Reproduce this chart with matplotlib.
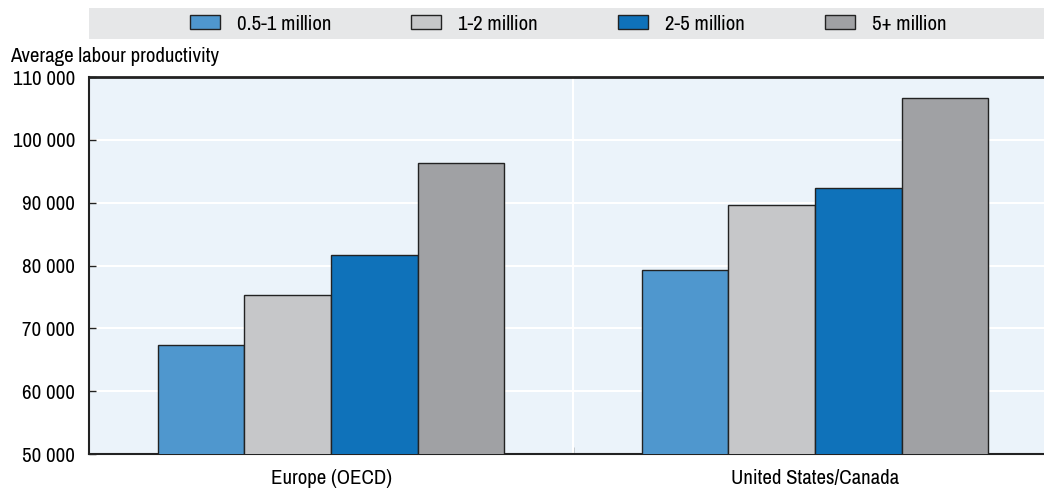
import numpy as np
import matplotlib.pyplot as plt
from matplotlib import font_manager
from matplotlib.patches import Patch, Rectangle
from matplotlib.ticker import FuncFormatter

names = {(f.name, f.stretch) for f in font_manager.fontManager.ttflist}
narrow = [n for n, s in names if 'Narrow' in n or 'Condensed' in n]
if narrow:
    plt.rcParams['font.family'] = [sorted(narrow)[0], 'DejaVu Sans']
elif ('DejaVu Sans', 'condensed') in names:
    plt.rcParams['font.family'] = ['DejaVu Sans']
    plt.rcParams['font.stretch'] = 'condensed'
else:
    plt.rcParams['font.family'] = ['Liberation Sans', 'DejaVu Sans']

regions = ['Europe (OECD)', 'United States/Canada']
sizes = ['0.5-1 million', '1-2 million', '2-5 million', '5+ million']
values = {
    '0.5-1 million': [67400, 79300],
    '1-2 million': [75300, 89700],
    '2-5 million': [81600, 92300],
    '5+ million': [96300, 106700],
}
colors = ['#4F97CE', '#C6C7C9', '#0F72BA', '#A0A1A4']
fs = 15

fig = plt.figure(figsize=(10.44, 4.91), dpi=100)
ax = fig.add_axes([89 / 1044, 37 / 491, 1 - 89 / 1044, (454 - 77) / 491])
ax.set_facecolor('#EBF3FA')

x = np.arange(len(regions))
w = 0.179
for i, s in enumerate(sizes):
    ax.bar(x + (i - 1.5) * w, values[s], w, color=colors[i],
           edgecolor='#222222', linewidth=1, zorder=3)

ax.set_xlim(-0.5, 1.473)
ax.set_ylim(50000, 110000)
ax.set_yticks(np.arange(50000, 110001, 10000))
ax.yaxis.set_major_formatter(FuncFormatter(lambda v, p: f'{int(v):,}'.replace(',', ' ')))
ax.set_xticks(x)
ax.set_xticklabels(regions)
ax.set_xticks([0.5], minor=True)
ax.tick_params(axis='x', which='major', length=0, pad=11, labelsize=fs)
ax.tick_params(axis='x', which='minor', direction='in', length=5, width=1, color='#222222')
ax.tick_params(axis='y', direction='in', length=5, width=1, color='#222222', labelsize=fs, pad=10)

ax.grid(axis='y', color='white', linewidth=1.5, zorder=1)
ax.axvline(0.5, color='white', linewidth=1.5, zorder=1)
ax.set_axisbelow(True)

for side in ['left', 'bottom']:
    ax.spines[side].set_linewidth(1.5)
    ax.spines[side].set_color('#222222')
ax.spines['top'].set_linewidth(2)
ax.spines['top'].set_color('#222222')
ax.spines['right'].set_visible(False)

fig.text(10 / 1044, 1 - 56 / 491, 'Average labour productivity', fontsize=fs, va='center', ha='left')

fig.patches.append(Rectangle((89 / 1044, 1 - 39 / 491), 1 - 89 / 1044, 31 / 491,
                             transform=fig.transFigure, facecolor='#E6E7E8', edgecolor='none', zorder=0))
handles = [Patch(facecolor=c, edgecolor='#222222', linewidth=1) for c in colors]
fig.legend(handles, sizes, loc='center', bbox_to_anchor=(568 / 1044, 1 - 24 / 491), ncol=4,
           frameon=False, fontsize=fs, handlelength=1.45, handleheight=0.67,
           handletextpad=0.8, columnspacing=3.85)

fig.savefig('out.png', dpi=100)
